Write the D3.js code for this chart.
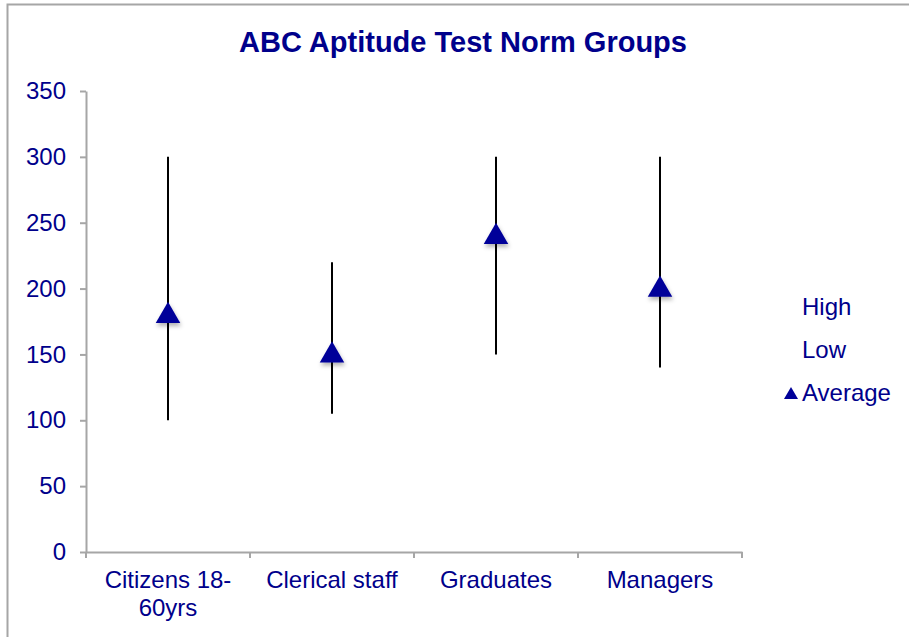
<!DOCTYPE html>
<html><head><meta charset="utf-8">
<script src="https://cdn.jsdelivr.net/npm/d3@7"></script>
<style>body{margin:0;background:#fff}svg{display:block;font-family:"Liberation Sans",Arial,sans-serif}</style>
</head><body>
<svg id="c" width="909" height="637"></svg>
<script>
const categories = ["Citizens 18-60yrs", "Clerical staff", "Graduates", "Managers"];
const categoryLines = [["Citizens 18-", "60yrs"], ["Clerical staff"], ["Graduates"], ["Managers"]];
const highValues = [300, 220, 300, 300];
const lowValues = [100, 105, 150, 140];
const averageValues = [180, 150, 240, 200];
const yTicks = [0, 50, 100, 150, 200, 250, 300, 350];
const legendLabels = ["High", "Low", "Average"];

const svg = d3.select("#c");
const textColor = "#00008B";
const axisColor = "#A6A6A6";

// outer border
svg.append("rect").attr("x", 7.5).attr("y", 4.5).attr("width", 920).attr("height", 660)
  .attr("fill", "none").attr("stroke", "#A6A6A6").attr("stroke-width", 2);

const defs = svg.append("defs");
const f = defs.append("filter").attr("id", "sh").attr("x", "-50%").attr("y", "-50%").attr("width", "200%").attr("height", "200%");
f.append("feDropShadow").attr("dx", 1).attr("dy", 3).attr("stdDeviation", 2).attr("flood-color", "#000").attr("flood-opacity", 0.3);

const x = d3.scaleBand().domain(categories).range([86, 742]);
const y = d3.scaleLinear().domain([0, 350]).range([552, 91]);

svg.append("text").attr("x", 463).attr("y", 52).attr("text-anchor", "middle")
  .attr("font-size", 29).attr("font-weight", "bold").attr("fill", textColor)
  .text("ABC Aptitude Test Norm Groups");

// y axis
const ya = svg.append("g").attr("transform", "translate(86,0)")
  .call(d3.axisLeft(y).tickValues(yTicks).tickSize(6).tickSizeOuter(0).tickPadding(14));
ya.select(".domain").attr("stroke", axisColor).attr("stroke-width", 2);
ya.selectAll(".tick line").attr("stroke", axisColor).attr("stroke-width", 2);
ya.selectAll(".tick text").attr("fill", textColor).attr("font-size", 24)
  .attr("font-family", "Liberation Sans, Arial, sans-serif");

// x axis
const xa = svg.append("g").attr("transform", "translate(0,552)")
  .call(d3.axisBottom(x).tickSize(0).tickSizeOuter(0));
xa.select(".domain").attr("stroke", axisColor).attr("stroke-width", 2);
xa.selectAll(".tick text").remove();
const bounds = [86].concat(categories.map(c => x(c) + x.bandwidth()));
xa.selectAll(".sep").data(bounds).join("line").attr("class", "sep")
  .attr("x1", d => d).attr("x2", d => d).attr("y1", 0).attr("y2", 6)
  .attr("stroke", axisColor).attr("stroke-width", 2);
categories.forEach((c, i) => {
  const t = svg.append("text").attr("x", x(c) + x.bandwidth() / 2).attr("y", 588)
    .attr("text-anchor", "middle").attr("font-size", 24).attr("fill", textColor);
  categoryLines[i].forEach((ln, j) => t.append("tspan").attr("x", x(c) + x.bandwidth() / 2).attr("dy", j ? 28 : 0).text(ln));
});

// high-low lines
svg.selectAll(".hl").data(categories).join("line").attr("class", "hl")
  .attr("x1", d => x(d) + x.bandwidth() / 2).attr("x2", d => x(d) + x.bandwidth() / 2)
  .attr("y1", (d, i) => y(highValues[i])).attr("y2", (d, i) => y(lowValues[i]))
  .attr("stroke", "#000").attr("stroke-width", 2);

// average triangles
const tri = d3.symbol().type(d3.symbolTriangle).size(260);
svg.selectAll(".avg").data(categories).join("path").attr("class", "avg")
  .attr("d", tri)
  .attr("transform", (d, i) => `translate(${x(d) + x.bandwidth() / 2},${y(averageValues[i]) + 1})`)
  .attr("fill", "#000099").attr("filter", "url(#sh)");

// legend
const lg = svg.append("g");
legendLabels.forEach((l, i) => {
  lg.append("text").attr("x", 802).attr("y", 315 + i * 43).attr("font-size", 24).attr("fill", textColor).text(l);
});
lg.append("path").attr("d", d3.symbol().type(d3.symbolTriangle).size(85))
  .attr("transform", "translate(791,395)").attr("fill", "#000099");
</script>
</body></html>
